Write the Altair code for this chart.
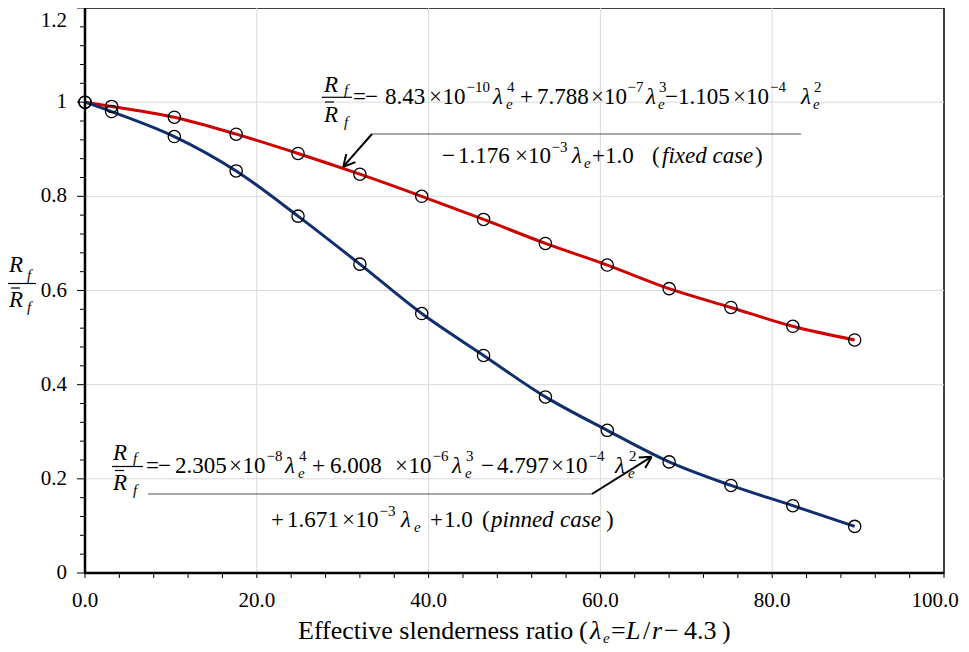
import math
import altair as alt
import pandas as pd

# ---------------- data ----------------
slenderness = [0.0, 3.1, 10.4, 17.6, 24.8, 32.0, 39.2, 46.4, 53.6, 60.8, 68.0, 75.2, 82.4, 89.6]
fixed_ratio = [1.000, 0.991, 0.968, 0.932, 0.891, 0.847, 0.800, 0.751, 0.700, 0.654, 0.604, 0.564, 0.524, 0.495]
pinned_ratio = [1.000, 0.980, 0.927, 0.854, 0.758, 0.656, 0.551, 0.462, 0.374, 0.303, 0.236, 0.186, 0.143, 0.099]

x_major = [0, 20, 40, 60, 80, 100]
x_ticks = [0, 4, 8, 12, 16, 20, 24, 28, 32, 36, 40, 44, 48, 52, 56, 60, 64, 68, 72, 76, 80, 84, 88, 92, 96, 100]
y_major = [0, 0.2, 0.4, 0.6, 0.8, 1.0, 1.2]
y_minor = [0.04, 0.08, 0.12, 0.16, 0.24, 0.28, 0.32, 0.36, 0.44, 0.48, 0.52, 0.56,
           0.64, 0.68, 0.72, 0.76, 0.84, 0.88, 0.92, 0.96, 1.04, 1.08, 1.12, 1.16]

RED = "#CC0000"
BLUE = "#102F6E"
FONT = "Liberation Serif, Times New Roman, Tinos, DejaVu Serif, serif"

# ---------------- layout ----------------
W, H = 859, 565
PAD_L = 77
X0_PAGE, Y0_PAGE = 85, 8  # page position of view origin


def xd(px):
    return (px - X0_PAGE) / W * 100.0


def yd(py):
    return (Y0_PAGE + H - py) / H * 1.2


xs = alt.Scale(domain=[0, 100], nice=False, zero=False)
ys = alt.Scale(domain=[0, 1.2], nice=False, zero=False)

# ---------------- series ----------------
rows = []
for x, f, p in zip(slenderness, fixed_ratio, pinned_ratio):
    rows.append({"x": x, "r": f, "case": "fixed"})
    rows.append({"x": x, "r": p, "case": "pinned"})
series = pd.DataFrame(rows)

grid_x = alt.Chart(pd.DataFrame({"v": x_major[1:-1]})).mark_rule(
    color="#D9D9D9", strokeWidth=1
).encode(x=alt.X("v:Q", scale=xs, axis=None))
grid_y = alt.Chart(pd.DataFrame({"v": y_major[1:-1]})).mark_rule(
    color="#D9D9D9", strokeWidth=1
).encode(y=alt.Y("v:Q", scale=ys, axis=None))

lines = alt.Chart(series).mark_line(interpolate="monotone", strokeWidth=3).encode(
    x=alt.X("x:Q", scale=xs, axis=None),
    y=alt.Y("r:Q", scale=ys, axis=None),
    color=alt.Color("case:N", scale=alt.Scale(domain=["fixed", "pinned"], range=[RED, BLUE]), legend=None),
)
points = alt.Chart(series).mark_point(
    shape="circle", filled=False, size=150, color="black", strokeWidth=1.3, opacity=1
).encode(
    x=alt.X("x:Q", scale=xs, axis=None),
    y=alt.Y("r:Q", scale=ys, axis=None),
)

# ---------------- axes drawn with marks on the shared scales ----------------
x_tick_marks = alt.Chart(pd.DataFrame({"v": x_ticks})).mark_rule(color="black", strokeWidth=1).encode(
    x=alt.X("v:Q", scale=xs, axis=None), y=alt.value(H), y2=alt.value(H + 5)
)
y_tick_major = alt.Chart(pd.DataFrame({"v": y_major})).mark_rule(color="black", strokeWidth=1).encode(
    y=alt.Y("v:Q", scale=ys, axis=None), x=alt.value(-8), x2=alt.value(0)
)
y_tick_minor = alt.Chart(pd.DataFrame({"v": y_minor})).mark_rule(color="black", strokeWidth=1).encode(
    y=alt.Y("v:Q", scale=ys, axis=None), x=alt.value(-5), x2=alt.value(0)
)
x_labels = alt.Chart(pd.DataFrame({"v": x_major[:-1]})).transform_calculate(
    lab="format(datum.v, '.1f')"
).mark_text(align="center", baseline="alphabetic", font=FONT, fontSize=21, color="black").encode(
    x=alt.X("v:Q", scale=xs, axis=None), y=alt.value(599), text="lab:N"
)
# last x label nudged so it stays inside the page
x_label_last = alt.Chart(pd.DataFrame({"v": x_major[-1:]})).transform_calculate(
    lab="format(datum.v, '.1f')"
).mark_text(align="center", baseline="alphabetic", dx=-9, font=FONT, fontSize=21, color="black").encode(
    x=alt.X("v:Q", scale=xs, axis=None), y=alt.value(599), text="lab:N"
)
y_labels = alt.Chart(pd.DataFrame({"v": y_major[:-1]})).transform_calculate(
    lab="format(datum.v, '~g')"
).mark_text(align="right", baseline="middle", font=FONT, fontSize=21, color="black").encode(
    y=alt.Y("v:Q", scale=ys, axis=None), x=alt.value(-18), text="lab:N"
)
# top tick label kept inside the page
top_label = alt.Chart(pd.DataFrame({"v": y_major[-1:]})).transform_calculate(
    lab="format(datum.v, '~g')"
).mark_text(align="right", baseline="top", dy=2, font=FONT, fontSize=21, color="black").encode(
    y=alt.Y("v:Q", scale=ys, axis=None), x=alt.value(-18), text="lab:N"
)
domain_left = alt.Chart(pd.DataFrame({"v": [0]})).mark_rule(color="black", strokeWidth=2.5).encode(
    x=alt.value(0), y=alt.value(0), y2=alt.value(H)
)
domain_bottom = alt.Chart(pd.DataFrame({"v": [0]})).mark_rule(color="black", strokeWidth=2.5).encode(
    y=alt.value(H), x=alt.value(-1), x2=alt.value(W)
)

# ---------------- annotation text (page coordinates) ----------------
segs = []


def s(kind, px, py, t):
    segs.append({"kind": kind, "x": xd(px), "y": yd(py), "t": t})


# fixed case equation, line 1
B, SUP, SUB = 103.5, 92, 108.5
s("i23", 324, 92, "R"); s("i15", 344, 94.5, "f")
s("i23", 324, 122, "R"); s("i15", 344, 127, "f")
for px, t in [(353, "="), (365, "−"), (385, "8.43"), (429, "×"), (442.5, "10"), (520, "+"), (537, "7.788"),
              (591, "×"), (604, "10"), (665, "−"), (678, "1.105"), (733, "×"), (746, "10")]:
    s("n23", px, B, t)
for px, t in [(466.5, "−10"), (507, "4"), (627.5, "−7"), (659, "3"), (770, "−4"), (814, "2")]:
    s("n15", px, SUP, t)
for px in [493, 646, 801]:
    s("i23", px, B, "λ")
for px in [506, 658, 813]:
    s("i15", px, SUB, "e")

# fixed case equation, line 2
B2, SUP2, SUB2 = 163, 151.5, 168
for px, t in [(442, "−"), (458, "1.176"), (515, "×"), (528, "10"), (592, "+1.0"), (652, "("), (755, ")")]:
    s("n23", px, B2, t)
s("n15", 551.5, SUP2, "−3")
s("i23", 572, B2, "λ"); s("i15", 584, SUB2, "e")
s("i23", 662, B2, "fixed case")

# pinned case equation, line 1
B, SUP, SUB = 472.5, 461, 477.5
s("i23", 113, 460, "R"); s("i15", 133, 463, "f")
s("i23", 113, 490, "R"); s("i15", 133, 495, "f")
for px, t in [(146, "="), (158, "−"), (175, "2.305"), (229, "×"), (242.5, "10"), (312, "+"), (330, "6.008"),
              (395, "×"), (408.5, "10"), (481, "−"), (497, "4.797"), (551, "×"), (564.5, "10")]:
    s("n23", px, B, t)
for px, t in [(266.5, "−8"), (299, "4"), (432.5, "−6"), (466, "3"), (588.5, "−4"), (629, "2")]:
    s("n15", px, SUP, t)
for px in [285, 452, 615]:
    s("i23", px, B, "λ")
for px in [298, 465, 628]:
    s("i15", px, SUB, "e")

# pinned case equation, line 2
B2, SUP2, SUB2 = 527, 515.5, 532
for px, t in [(271, "+"), (287, "1.671"), (342, "×"), (355.5, "10"), (430, "+"), (444, "1.0"), (482, "("), (606, ")")]:
    s("n23", px, B2, t)
s("n15", 379.5, SUP2, "−3")
s("i23", 401, B2, "λ"); s("i15", 414, SUB2, "e")
s("i23", 491, B2, "pinned"); s("i23", 560, B2, "case")

# y axis title (fraction)
s("i23", 9, 272, "R"); s("i15", 27, 280, "f")
s("i23", 9, 307, "R"); s("i15", 27, 312, "f")

# x axis title
TB = 639
s("n26", 298, TB, "Effective slenderness ratio")
s("n26", 579, TB, "(")
s("i26", 590, TB, "λ"); s("i15", 603, TB + 3.5, "e")
s("n26", 611, TB, "=")
s("i26", 626, TB, "L")
s("n26", 643, TB, "/")
s("i26", 652, TB, "r")
s("n26", 664, TB, "−")
s("n26", 684, TB, "4.3")
s("n26", 722, TB, ")")

ann = pd.DataFrame(segs)

styles = {
    "n23": (23, "normal"), "i23": (23, "italic"),
    "n15": (15, "normal"), "i15": (15, "italic"),
    "n26": (26, "normal"), "i26": (26, "italic"),
}
text_layers = []
for kind, (fs, fst) in styles.items():
    sub = ann[ann["kind"] == kind]
    text_layers.append(
        alt.Chart(sub).mark_text(
            align="left", baseline="alphabetic", font=FONT, fontSize=fs, fontStyle=fst, color="black"
        ).encode(
            x=alt.X("x:Q", scale=xs, axis=None),
            y=alt.Y("y:Q", scale=ys, axis=None),
            text="t:N",
        )
    )

# ---------------- annotation lines (page coordinates) ----------------
def seg_rows(pts):
    return pd.DataFrame([{"x1": xd(a), "y1": yd(b), "x2": xd(c), "y2": yd(d)} for a, b, c, d in pts])


def arrowhead(tipx, tipy, fromx, fromy, length=13, ang=28):
    dx, dy = fromx - tipx, fromy - tipy
    L = math.hypot(dx, dy)
    ux, uy = dx / L, dy / L
    out = []
    for sgn in (1, -1):
        a = math.radians(ang * sgn)
        rx = ux * math.cos(a) - uy * math.sin(a)
        ry = ux * math.sin(a) + uy * math.cos(a)
        out.append((tipx, tipy, tipx + rx * length, tipy + ry * length))
    return out


leaders = [(372, 134, 801, 134), (148, 494, 592, 494)]
bars = [(321.7, 97.3, 352, 97.3), (112, 466.5, 143, 466.5), (8, 283.5, 36, 283.5),
        (325, 102, 334, 102), (115, 470.5, 124, 470.5), (11, 288, 20, 288)]
arrows = [(372, 134, 343.3, 166.7), (592, 494, 651.7, 456.7)]
arrows += arrowhead(343.3, 166.7, 372, 134)
arrows += arrowhead(651.7, 456.7, 592, 494)


def rule_layer(df, color, width):
    return alt.Chart(df).mark_rule(color=color, strokeWidth=width).encode(
        x=alt.X("x1:Q", scale=xs, axis=None), x2="x2:Q",
        y=alt.Y("y1:Q", scale=ys, axis=None), y2="y2:Q",
    )


line_layers = [
    rule_layer(seg_rows(leaders), "#505050", 1),
    rule_layer(seg_rows(bars), "black", 1.2),
    rule_layer(seg_rows(arrows), "black", 2),
]

chart = alt.layer(
    grid_x, grid_y, lines, points,
    x_tick_marks, y_tick_major, y_tick_minor, domain_left, domain_bottom,
    x_labels, x_label_last, y_labels, top_label,
    *line_layers, *text_layers,
).properties(
    width=W, height=H,
    padding={"left": PAD_L, "top": 0, "right": 17, "bottom": 71},
    autosize=alt.AutoSizeParams(type="none"),
    background="white",
).configure_view(stroke="black", strokeWidth=1.5)

chart.save("out.html", embed_options={"renderer": "svg", "actions": False})
